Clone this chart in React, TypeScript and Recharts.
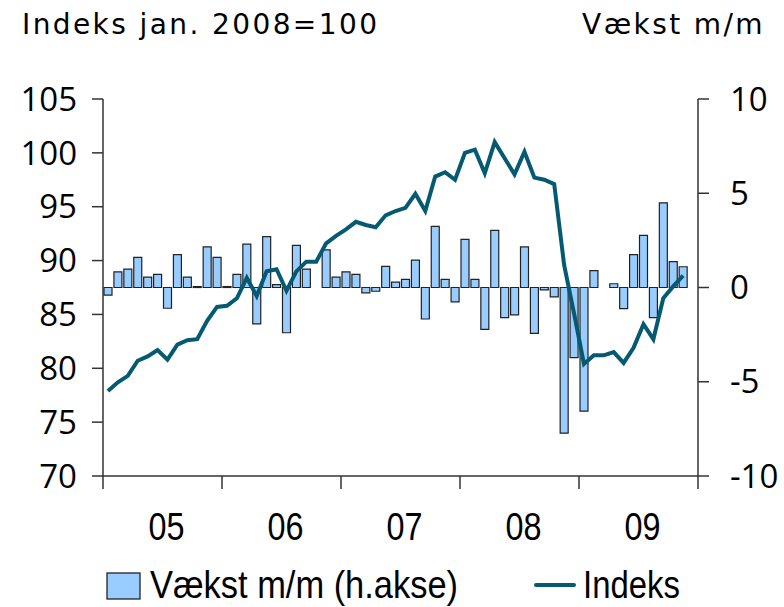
import React from "react";
import { ComposedChart, XAxis, YAxis, Bar, Line } from "recharts";

// år på x-aksen
const aar = ["05", "06", "07", "08", "09"];

// Vækst m/m i pct. (højre akse), jan 2005 - nov 2009
const vaekst = [
  -0.4, 0.83, 0.98, 1.6, 0.55, 0.7, -1.1, 1.74, 0.55, 0.05, 2.15, 1.6,
  0.05, 0.7, 2.3, -1.93, 2.7, 0.15, -2.4, 2.23, 0.98, 0, 2.0, 0.55,
  0.83, 0.7, -0.28, -0.2, 1.12, 0.28, 0.43, 1.45, -1.67, 3.24, 0.43, -0.76,
  2.55, 0.43, -2.22, 3.03, -1.6, -1.45, 2.15, -2.43, -0.13, -0.5, -7.73, -3.72,
  -6.56, 0.9, 0, 0.2, -1.12, 1.74, 2.77, -1.6, 4.49, 1.37, 1.1,
];

// Indeks, jan. 2008 = 100 (venstre akse)
const indeks = [
  77.9, 78.7, 79.3, 80.7, 81.1, 81.7, 80.8, 82.2, 82.6, 82.7, 84.4, 85.7,
  85.8, 86.5, 88.4, 86.7, 89.0, 89.2, 87.2, 89.0, 89.9, 89.9, 91.6, 92.3,
  92.9, 93.6, 93.3, 93.1, 94.2, 94.6, 94.9, 96.2, 94.6, 97.8, 98.2, 97.5,
  100.0, 100.3, 98.1, 101.0, 99.5, 98.0, 100.1, 97.7, 97.5, 97.1, 89.6, 85.1,
  80.4, 81.2, 81.2, 81.5, 80.5, 81.9, 84.1, 82.7, 86.5, 87.6, 88.6,
];

const venstreTicks = [70, 75, 80, 85, 90, 95, 100, 105];
const hoejreTicks = [-10, -5, 0, 5, 10];
const xTicks = [0, 6, 12, 18, 24, 30, 36, 42, 48, 54, 60];

// måned nr. i midten af sin måned
const data = vaekst.map((v, i) => ({ t: i + 0.5, vaekst: v, indeks: indeks[i] }));

const AXIS = "#333";
const BAR_FILL = "#99CCFF";
const LINE_COL = "#055A72";
const TICK_FONT = "'Open Sans', sans-serif";
const TITLE_FONT = "'DejaVu Sans', sans-serif";
const NARROW_FONT = "'Liberation Sans', sans-serif";

const YearTick = (props: any) => {
  const { x, y, payload } = props;
  const v = payload.value;
  if (v % 12 === 0) {
    return <line x1={x} x2={x} y1={y} y2={y + 13} stroke={AXIS} strokeWidth={1.5} />;
  }
  // smal skrift: presses sammen med textLength
  return (
    <text
      x={x + 4 - 18}
      y={y + 64}
      textLength={36}
      lengthAdjust="spacingAndGlyphs"
      fontSize={39}
      fontFamily={NARROW_FONT}
      fill="#000"
    >
      {aar[(v - 6) / 12]}
    </text>
  );
};

export default function App() {
  return (
    <div style={{ position: "absolute", left: 0, top: 0, width: 784, height: 607, background: "#fff" }}>
      <ComposedChart
        width={784}
        height={607}
        data={data}
        margin={{ top: 99, right: 0, bottom: 71, left: 0 }}
      >
        <XAxis
          dataKey="t"
          type="number"
          domain={[0, 60]}
          ticks={xTicks}
          interval={0}
          height={60}
          tickLine={false}
          tickSize={0}
          tickMargin={0}
          axisLine={{ stroke: AXIS, strokeWidth: 1.5 }}
          tick={<YearTick />}
        />
        <YAxis
          yAxisId="l"
          orientation="left"
          width={103}
          domain={[70, 105]}
          ticks={venstreTicks}
          interval={0}
          tickSize={11}
          tickMargin={15}
          axisLine={{ stroke: AXIS, strokeWidth: 1.5 }}
          tickLine={{ stroke: AXIS, strokeWidth: 1.5 }}
          tick={{ fontSize: 33, fontFamily: TICK_FONT, fill: "#000" }}
        />
        <YAxis
          yAxisId="r"
          orientation="right"
          width={86}
          domain={[-10, 10]}
          ticks={hoejreTicks}
          interval={0}
          tickSize={11}
          tickMargin={21}
          axisLine={{ stroke: AXIS, strokeWidth: 1.5 }}
          tickLine={{ stroke: AXIS, strokeWidth: 1.5 }}
          tick={{ fontSize: 33, fontFamily: TICK_FONT, fill: "#000", textAnchor: "start" }}
        />
        <Bar
          yAxisId="r"
          dataKey="vaekst"
          barSize={8}
          fill={BAR_FILL}
          stroke="#222"
          strokeWidth={1.2}
          isAnimationActive={false}
        />
        <Line
          yAxisId="l"
          type="linear"
          dataKey="indeks"
          stroke={LINE_COL}
          strokeWidth={4}
          dot={false}
          isAnimationActive={false}
        />
      </ComposedChart>

      {/* titler og forklaring */}
      <svg
        width={784}
        height={607}
        style={{ position: "absolute", left: 0, top: 0, pointerEvents: "none" }}
      >
        <text x={22} y={34} fontSize={28} fontFamily={TITLE_FONT} letterSpacing={2.4} fill="#000">
          Indeks jan. 2008=100
        </text>
        <text x={765} y={34} fontSize={28} fontFamily={TITLE_FONT} letterSpacing={2.4} textAnchor="end" fill="#000">
          Vækst m/m
        </text>

        <rect x={107} y={573} width={33} height={26} fill={BAR_FILL} stroke="#222" strokeWidth={1.3} />
        <text
          x={150}
          y={598}
          textLength={308}
          lengthAdjust="spacingAndGlyphs"
          fontSize={39}
          fontFamily={NARROW_FONT}
          fill="#000"
        >
          Vækst m/m (h.akse)
        </text>
        <line x1={536} x2={574} y1={585} y2={585} stroke={LINE_COL} strokeWidth={4} strokeLinecap="round" />
        <text
          x={583}
          y={598}
          textLength={97}
          lengthAdjust="spacingAndGlyphs"
          fontSize={39}
          fontFamily={NARROW_FONT}
          fill="#000"
        >
          Indeks
        </text>
      </svg>
    </div>
  );
}
